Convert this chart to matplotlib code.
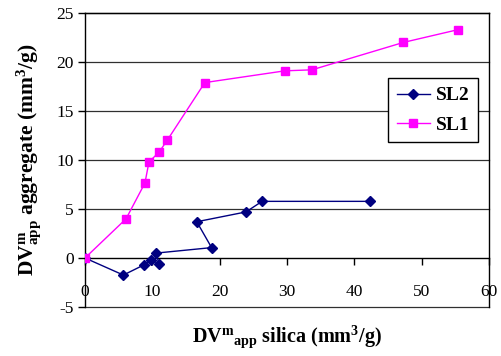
import matplotlib
matplotlib.use("Agg")
import matplotlib.pyplot as plt

plt.rcParams['font.family'] = ['Liberation Serif', 'DejaVu Serif']
plt.rcParams['mathtext.fontset'] = 'custom'
plt.rcParams['mathtext.rm'] = 'Liberation Serif:bold'
plt.rcParams['mathtext.bf'] = 'Liberation Serif:bold'
plt.rcParams['mathtext.it'] = 'Liberation Serif:bold'
plt.rcParams['mathtext.default'] = 'bf'
plt.rcParams['axes.unicode_minus'] = False

# Data
sl2_x = [0, 5.7, 8.7, 9.8, 11.0, 10.55, 18.8, 16.6, 23.9, 26.3, 42.3]
sl2_y = [0, -1.74, -0.72, -0.17, -0.6, 0.5, 1.06, 3.7, 4.7, 5.78, 5.78]
sl1_x = [0, 6.1, 8.9, 9.5, 11.0, 12.2, 17.8, 29.7, 33.7, 47.3, 55.4]
sl1_y = [0, 4.0, 7.65, 9.8, 10.8, 12.0, 17.9, 19.1, 19.2, 22.0, 23.3]
x_ticks = [0, 10, 20, 30, 40, 50, 60]
y_ticks = [-5, 0, 5, 10, 15, 20, 25]

fig = plt.figure(figsize=(5.02, 3.56), dpi=100)
ax = fig.add_axes([85/502, 1-307/356, 404/502, 294/356])

for yv in y_ticks:
    if yv != 0:
        ax.axhline(yv, color='#303030', lw=0.9, zorder=1, clip_on=False)

ax.plot(sl2_x, sl2_y, color='#000080', lw=1.0, marker='D', markersize=5.5,
        markerfacecolor='#000080', markeredgecolor='#000080', label='SL2', zorder=3)
ax.plot(sl1_x, sl1_y, color='#FF00FF', lw=1.0, marker='s', markersize=5.8,
        markerfacecolor='#FF00FF', markeredgecolor='#FF00FF', label='SL1', zorder=4)

ax.set_xlim(0, 60)
ax.set_ylim(-5, 25)
ax.set_xticks(x_ticks)
ax.set_yticks(y_ticks)

ax.spines['bottom'].set_position(('data', 0))
for s in ax.spines.values():
    s.set_color('black')
    s.set_linewidth(1.0)
ax.spines['bottom'].set_zorder(2)

ax.tick_params(axis='x', direction='out', length=5, width=1, labelsize=12.5, pad=13.5, colors='black')
ax.tick_params(axis='y', direction='out', length=5, width=1, labelsize=12.5, pad=3, colors='black')

ax.set_xlabel(r'DV$^{m}$$_{app}$ silica (mm$^{3}$/g)', fontsize=14.5, fontweight='bold')
ax.set_ylabel(r'DV$^{m}_{app}$ aggregate (mm$^{3}$/g)', fontsize=15.5, fontweight='bold')
ax.xaxis.set_label_coords(0.5, -0.055)
ax.yaxis.set_label_coords(-0.105, 0.5)

leg = ax.legend(loc='upper left', bbox_to_anchor=(0.75, 0.779), fancybox=False,
                edgecolor='black', framealpha=1, prop={'weight': 'bold', 'size': 14},
                handlelength=1.7, borderpad=0.45, labelspacing=0.6, handletextpad=0.3,
                borderaxespad=0)
leg.get_frame().set_linewidth(1.0)
leg.set_zorder(5)

fig.savefig('out.png', dpi=100)
